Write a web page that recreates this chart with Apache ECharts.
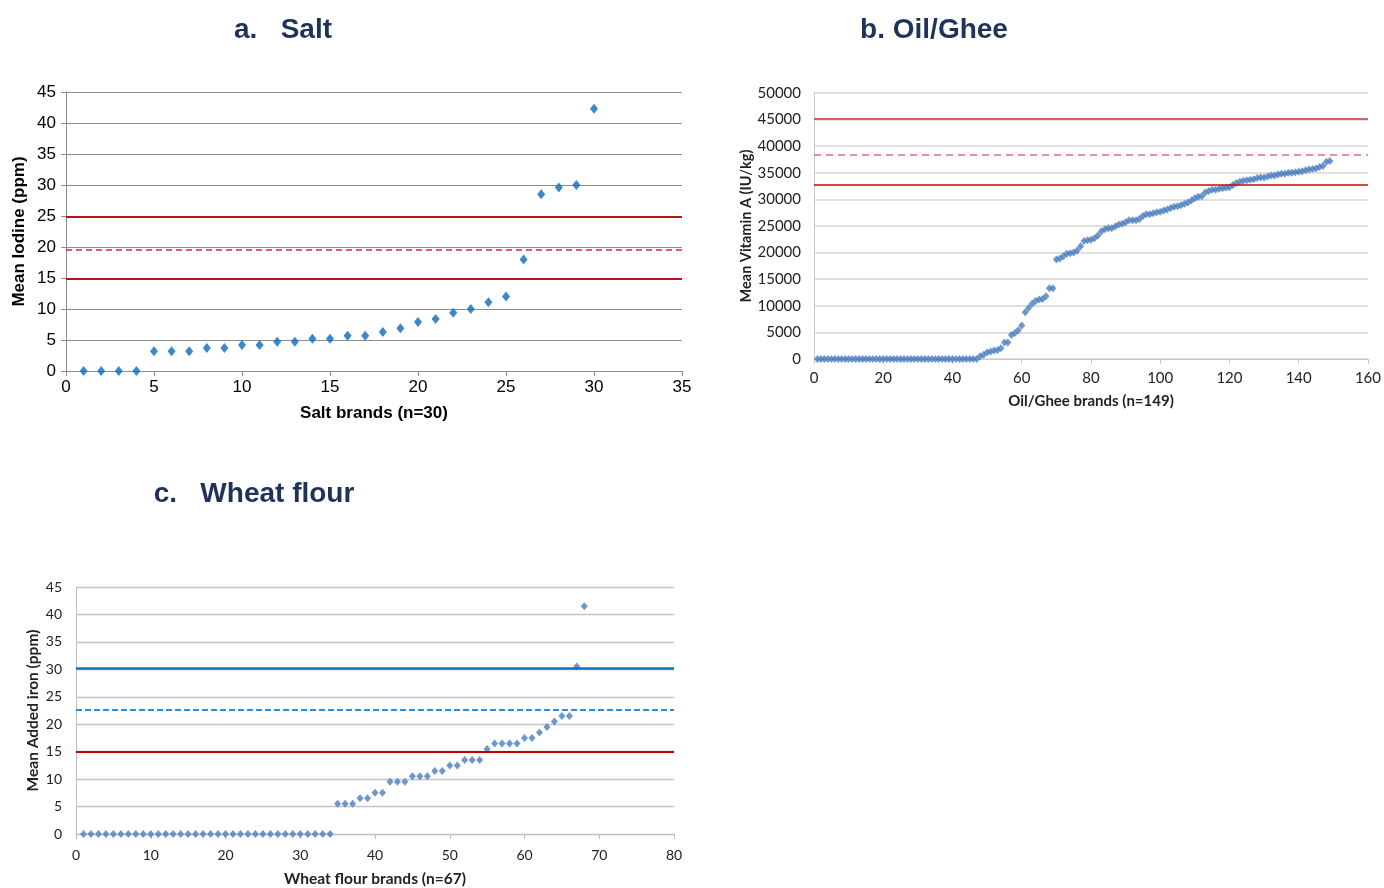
<!DOCTYPE html>
<html>
<head>
<meta charset="utf-8">
<script src="https://cdn.jsdelivr.net/npm/echarts@6/dist/echarts.min.js"></script>
<style>
html,body{margin:0;padding:0;background:#fff;}
#chart{width:1384px;height:888px;}
</style>
</head>
<body>
<div id="chart"></div>
<script>
// ---------- DATA ----------
const titles = ['a.   Salt', 'b. Oil/Ghee', 'c.   Wheat flour'];

const saltValues = [0, 0, 0, 0, 3.2, 3.2, 3.2, 3.7, 3.7, 4.2, 4.2, 4.7, 4.7, 5.2, 5.2,
  5.7, 5.7, 6.3, 6.9, 7.9, 8.4, 9.4, 10.0, 11.1, 12.0, 18.0, 28.5, 29.6, 30.0, 42.3];
const saltRefs = [24.9, 19.6, 14.8];
const saltXName = 'Salt brands (n=30)';
const saltYName = 'Mean Iodine (ppm)';

const oilValues = [
  0,0,0,0,0,0,0,0,0,0, 0,0,0,0,0,0,0,0,0,0, 0,0,0,0,0,0,0,0,0,0,
  0,0,0,0,0,0,0,0,0,0, 0,0,0,0,0,0,0,
  500, 800, 1200, 1400, 1600, 1700, 2000, 3100, 3100, 4500, 4900, 5400, 6300,
  8800, 9600, 10400, 10900, 11200, 11300, 11800, 13300, 13300,
  18700, 18900, 19300, 19800, 19900, 20000, 20400, 21200, 22200, 22300, 22400,
  22700, 23200, 24000, 24400, 24600, 24600, 24900, 25300, 25400, 25700, 26100,
  26100, 26100, 26300, 26900, 27200, 27200, 27400, 27600, 27700, 27900, 28100,
  28400, 28600, 28700, 28900, 29200, 29400, 29800, 30200, 30500, 30600, 31300,
  31600, 31800, 31800, 32000, 32100, 32200, 32300, 32700, 33100, 33300, 33500,
  33600, 33700, 33800, 34000, 34100, 34100, 34300, 34500, 34500, 34700, 34800,
  34800, 35000, 35000, 35100, 35200, 35300, 35500, 35600, 35700, 35800, 36100,
  36300, 37100, 37200];
const oilRefs = [45100, 38300, 32700];
const oilXName = 'Oil/Ghee brands (n=149)';
const oilYName = 'Mean Vitamin A (IU/kg)';

const wheatValues = [
  0,0,0,0,0,0,0,0,0,0, 0,0,0,0,0,0,0,0,0,0, 0,0,0,0,0,0,0,0,0,0, 0,0,0,0,
  5.5, 5.5, 5.5, 6.5, 6.5, 7.5, 7.5, 9.5, 9.5, 9.5, 10.5, 10.5, 10.5, 11.5, 11.5,
  12.5, 12.5, 13.5, 13.5, 13.5, 15.5, 16.5, 16.5, 16.5, 16.5, 17.5, 17.5, 18.5,
  19.5, 20.5, 21.5, 21.5, 30.5, 41.5];
const wheatRefs = [30.2, 22.6, 15.0];
const wheatXName = 'Wheat flour brands (n=67)';
const wheatYName = 'Mean Added iron (ppm)';

// ---------- STYLES ----------
const toPoints = vals => vals.map((v, i) => [i + 1, v]);
const narrow = '"Liberation Sans Narrow", "Liberation Sans", Arial, sans-serif';
const calib = 'Lato, "Open Sans", sans-serif';
const plain = v => String(v);

const refStyles = [
  [ {color:'#b8141c', width:2, type:'solid'}, {color:'#d8204c', width:1.5, type:[6,4]}, {color:'#b8141c', width:2, type:'solid'} ],
  [ {color:'#cf6464', width:2, type:'solid'}, {color:'#e07272', width:1.6, type:[7,5]}, {color:'#c40a0a', width:1.6, type:'solid'} ],
  [ {color:'#0f72c2', width:2.5, type:'solid'}, {color:'#2f8ad4', width:2.2, type:[6,3]}, {color:'#c00000', width:2, type:'solid'} ]
];

function refSeries(idx, refs) {
  return {
    type: 'line', xAxisIndex: idx, yAxisIndex: idx, data: [], z: 1,
    markLine: {
      silent: true, symbol: ['none', 'none'], label: {show: false},
      animation: false,
      data: refs.map((v, k) => ({yAxis: v, lineStyle: refStyles[idx][k]}))
    }
  };
}

const chart = echarts.init(document.getElementById('chart'), null, {renderer: 'canvas'});

const titleFont = 'bold 28px "Liberation Sans", Arial, sans-serif';
const option = {
  animation: false,
  backgroundColor: '#fff',
  graphic: [
    {type:'text', x: 283, y: 30, style:{text: titles[0], fill:'#1f3358', font: titleFont, textAlign:'center', textVerticalAlign:'middle'}},
    {type:'text', x: 934, y: 30, style:{text: titles[1], fill:'#1f3358', font: titleFont, textAlign:'center', textVerticalAlign:'middle'}},
    {type:'text', x: 254, y: 494, style:{text: titles[2], fill:'#1f3358', font: titleFont, textAlign:'center', textVerticalAlign:'middle'}}
  ],
  grid: [
    {left: 66, top: 92, width: 616, height: 279},
    {left: 814, top: 93, width: 555, height: 266},
    {left: 76, top: 587, width: 598, height: 248}
  ],
  xAxis: [
    {gridIndex:0, type:'value', min:0, max:35, interval:5,
     name: saltXName, nameLocation:'middle', nameGap: 34,
     nameTextStyle:{fontFamily: narrow, fontWeight:'bold', fontSize:17, color:'#000'},
     axisLine:{show:true, lineStyle:{color:'#8c8c8c'}}, axisTick:{show:true, length:5, lineStyle:{color:'#8c8c8c'}},
     axisLabel:{fontFamily: narrow, fontSize:17, color:'#000', margin:8},
     splitLine:{show:false}},
    {gridIndex:1, type:'value', min:0, max:160, interval:20,
     name: oilXName, nameLocation:'middle', nameGap: 35,
     nameTextStyle:{fontFamily: calib, fontWeight:'bold', fontSize:15, color:'#222'},
     axisLine:{show:true, lineStyle:{color:'#c8c8c8'}}, axisTick:{show:true, length:5, lineStyle:{color:'#c8c8c8'}},
     axisLabel:{fontFamily: calib, fontSize:15, color:'#222', margin:12, formatter: plain},
     splitLine:{show:false}},
    {gridIndex:2, type:'value', min:0, max:80, interval:10,
     name: wheatXName, nameLocation:'middle', nameGap: 37,
     nameTextStyle:{fontFamily: calib, fontWeight:'bold', fontSize:15.5, color:'#222'},
     axisLine:{show:true, lineStyle:{color:'#bdbdbd'}}, axisTick:{show:true, length:5, lineStyle:{color:'#bdbdbd'}},
     axisLabel:{fontFamily: calib, fontSize:14, color:'#222', margin:14},
     splitLine:{show:false}}
  ],
  yAxis: [
    {gridIndex:0, type:'value', min:0, max:45, interval:5,
     name: saltYName, nameLocation:'middle', nameGap: 38, nameRotate: 90,
     nameTextStyle:{fontFamily: narrow, fontWeight:'bold', fontSize:17, color:'#000'},
     axisLine:{show:true, lineStyle:{color:'#8c8c8c'}}, axisTick:{show:true, length:5, lineStyle:{color:'#8c8c8c'}},
     axisLabel:{fontFamily: narrow, fontSize:17, color:'#000', margin:10},
     splitLine:{show:true, lineStyle:{color:'#8c8c8c', width:1}}},
    {gridIndex:1, type:'value', min:0, max:50000, interval:5000,
     name: oilYName, nameLocation:'middle', nameGap: 55, nameRotate: 90,
     nameTextStyle:{fontFamily: calib, fontWeight:'bold', fontSize:14.5, color:'#222'},
     axisLine:{show:true, lineStyle:{color:'#c8c8c8'}}, axisTick:{show:false},
     axisLabel:{fontFamily: calib, fontSize:15, color:'#222', margin:13, formatter: plain},
     splitLine:{show:true, lineStyle:{color:'#d4d4d4', width:1.5}}},
    {gridIndex:2, type:'value', min:0, max:45, interval:5,
     name: wheatYName, nameLocation:'middle', nameGap: 35, nameRotate: 90,
     nameTextStyle:{fontFamily: calib, fontWeight:'bold', fontSize:15.5, color:'#222'},
     axisLine:{show:true, lineStyle:{color:'#bdbdbd'}}, axisTick:{show:false},
     axisLabel:{fontFamily: calib, fontSize:14, color:'#222', margin:14},
     splitLine:{show:true, lineStyle:{color:'#c4c4c4', width:1.3}}}
  ],
  series: [
    refSeries(0, saltRefs),
    refSeries(1, oilRefs),
    refSeries(2, wheatRefs),
    {type:'scatter', xAxisIndex:0, yAxisIndex:0, z:3, data: toPoints(saltValues),
     symbol:'diamond', symbolSize:[8,10], itemStyle:{color:'#0a6cbd'}},
    {type:'scatter', xAxisIndex:1, yAxisIndex:1, z:3, data: toPoints(oilValues),
     symbol:'diamond', symbolSize:[7,8], itemStyle:{color:'#4a7ec0'}},
    {type:'scatter', xAxisIndex:2, yAxisIndex:2, z:3, data: toPoints(wheatValues),
     symbol:'diamond', symbolSize:[7,8], itemStyle:{color:'#4a7ec0'}}
  ]
};
chart.setOption(option);
</script>
</body>
</html>
